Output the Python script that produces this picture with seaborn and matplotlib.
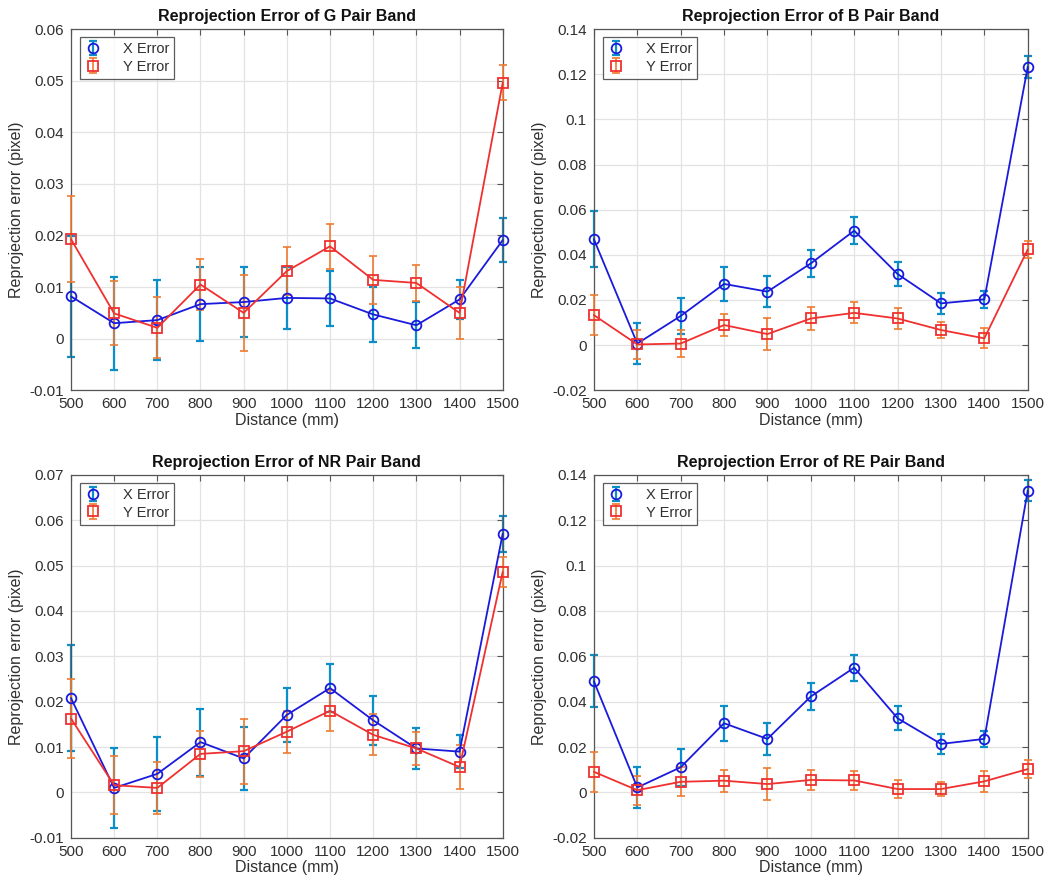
import numpy as np
import pandas as pd
import matplotlib
matplotlib.use("Agg")
import matplotlib.pyplot as plt
from matplotlib.lines import Line2D
from matplotlib.legend_handler import HandlerTuple
import seaborn as sns

# Distances (mm)
distance = [500, 600, 700, 800, 900, 1000, 1100, 1200, 1300, 1400, 1500]

# G pair band
g_x = [0.0082, 0.0030, 0.0036, 0.0067, 0.0071, 0.0079, 0.0078, 0.0047, 0.0026, 0.0076, 0.0191]
g_x_err = [0.0117, 0.0090, 0.0077, 0.0072, 0.0068, 0.0060, 0.0053, 0.0053, 0.0045, 0.0037, 0.0042]
g_y = [0.0193, 0.0049, 0.0021, 0.0105, 0.0050, 0.0131, 0.0179, 0.0114, 0.0108, 0.0050, 0.0496]
g_y_err = [0.0084, 0.0062, 0.0059, 0.0050, 0.0073, 0.0047, 0.0043, 0.0046, 0.0035, 0.0050, 0.0034]

# B pair band
b_x = [0.0469, 0.0007, 0.0129, 0.0271, 0.0237, 0.0362, 0.0507, 0.0315, 0.0185, 0.0203, 0.1232]
b_x_err = [0.0125, 0.0090, 0.0081, 0.0077, 0.0069, 0.0060, 0.0060, 0.0052, 0.0047, 0.0037, 0.0047]
b_y = [0.0133, 0.0003, 0.0007, 0.0089, 0.0049, 0.0118, 0.0143, 0.0118, 0.0067, 0.0030, 0.0424]
b_y_err = [0.0089, 0.0064, 0.0060, 0.0049, 0.0069, 0.0049, 0.0046, 0.0045, 0.0037, 0.0044, 0.0039]

# NR pair band
nr_x = [0.0208, 0.0010, 0.0041, 0.0111, 0.0075, 0.0171, 0.0230, 0.0159, 0.0097, 0.0090, 0.0570]
nr_x_err = [0.0117, 0.0088, 0.0081, 0.0074, 0.0069, 0.0059, 0.0053, 0.0054, 0.0046, 0.0037, 0.0039]
nr_y = [0.0163, 0.0016, 0.0010, 0.0085, 0.0091, 0.0134, 0.0180, 0.0127, 0.0097, 0.0056, 0.0486]
nr_y_err = [0.0088, 0.0064, 0.0058, 0.0050, 0.0072, 0.0046, 0.0045, 0.0045, 0.0037, 0.0049, 0.0034]

# RE pair band
re_x = [0.0490, 0.0022, 0.0111, 0.0305, 0.0236, 0.0423, 0.0550, 0.0327, 0.0214, 0.0236, 0.1330]
re_x_err = [0.0115, 0.0089, 0.0081, 0.0078, 0.0069, 0.0060, 0.0058, 0.0053, 0.0044, 0.0037, 0.0046]
re_y = [0.0091, 0.0010, 0.0047, 0.0052, 0.0037, 0.0055, 0.0053, 0.0015, 0.0015, 0.0049, 0.0103]
re_y_err = [0.0089, 0.0064, 0.0064, 0.0048, 0.0071, 0.0045, 0.0043, 0.0041, 0.0032, 0.0047, 0.0040]

bands = ["G", "B", "NR", "RE"]
panel_data = [
    (g_x, g_x_err, g_y, g_y_err),
    (b_x, b_x_err, b_y, b_y_err),
    (nr_x, nr_x_err, nr_y, nr_y_err),
    (re_x, re_x_err, re_y, re_y_err),
]
y_limits = [(-0.01, 0.06), (-0.02, 0.14), (-0.01, 0.07), (-0.02, 0.14)]
y_steps = [0.01, 0.02, 0.01, 0.02]

sns.set_style("white")
plt.rcParams['font.family'] = ['Liberation Sans', 'DejaVu Sans']

fig = plt.figure(figsize=(10.53, 8.81), dpi=100)
positions = [
    [0.0674, 0.557, 0.410, 0.410],
    [0.5640, 0.557, 0.412, 0.410],
    [0.0674, 0.049, 0.410, 0.412],
    [0.5640, 0.049, 0.412, 0.412],
]

line_blue = "#1a1adc"
bar_blue = "#0c8fc8"
line_red = "#f03030"
bar_red = "#f07a30"
text_col = "#303030"

for band, (xv, xe, yv, ye), lims, step, pos in zip(bands, panel_data, y_limits, y_steps, positions):
    ax = fig.add_axes(pos)
    df = pd.DataFrame({"distance": distance, "x": xv, "y": yv})

    # error bars
    eb_x = ax.errorbar(distance, xv, yerr=xe, fmt="none", ecolor=bar_blue,
                       elinewidth=1.6, capsize=3, capthick=1.6, zorder=2, clip_on=False)
    eb_y = ax.errorbar(distance, yv, yerr=ye, fmt="none", ecolor=bar_red,
                       elinewidth=1.2, capsize=3, capthick=1.2, zorder=3, clip_on=False)

    # lines with markers
    sns.lineplot(data=df, x="distance", y="x", ax=ax, color=line_blue, linewidth=1.3,
                 marker="o", markersize=7, markerfacecolor="none", markeredgecolor=line_blue,
                 markeredgewidth=1.3, zorder=4, clip_on=False)
    sns.lineplot(data=df, x="distance", y="y", ax=ax, color=line_red, linewidth=1.3,
                 marker="s", markersize=6.5, markerfacecolor="none", markeredgecolor=line_red,
                 markeredgewidth=1.3, zorder=5, clip_on=False)

    ax.set_xlim(500, 1500)
    ax.set_ylim(*lims)
    ax.set_xticks(distance)
    yt = np.round(np.arange(lims[0], lims[1] + step / 2, step), 3)
    ax.set_yticks(yt)
    ax.set_yticklabels([f"{v:g}" for v in yt])
    ax.grid(True, color="#e3e3e3", linewidth=0.9)
    ax.set_axisbelow(True)
    for sp in ax.spines.values():
        sp.set_color("#555555")
        sp.set_linewidth(0.9)
    ax.tick_params(direction="in", length=4, width=0.8, colors="#555555",
                   labelcolor=text_col, labelsize=11, top=True, right=True, pad=5)

    ax.set_title(f"Reprojection Error of {band} Pair Band", fontsize=11.5,
                 fontweight="bold", color="#111111", pad=6)
    ax.set_xlabel("Distance (mm)", fontsize=11.5, color=text_col, labelpad=1)
    ax.set_ylabel("Reprojection error (pixel)", fontsize=11.5, color=text_col, labelpad=4)

    mk_x = Line2D([], [], linestyle="none", marker="o", markersize=7,
                  markerfacecolor="none", markeredgecolor=line_blue, markeredgewidth=1.3)
    mk_y = Line2D([], [], linestyle="none", marker="s", markersize=6.5,
                  markerfacecolor="none", markeredgecolor=line_red, markeredgewidth=1.3)
    leg = ax.legend([(eb_x, mk_x), (eb_y, mk_y)], ["X Error", "Y Error"],
                    handler_map={tuple: HandlerTuple(ndivide=1, pad=0)},
                    loc="upper left", bbox_to_anchor=(0.02, 0.978), fontsize=10.5,
                    frameon=True, fancybox=False, edgecolor="#333333",
                    handlelength=1.2, handletextpad=1.4, borderpad=0.35,
                    labelspacing=0.25, borderaxespad=0)
    leg.get_frame().set_linewidth(0.9)
    for t in leg.get_texts():
        t.set_color(text_col)

fig.savefig("out.png", dpi=100)
